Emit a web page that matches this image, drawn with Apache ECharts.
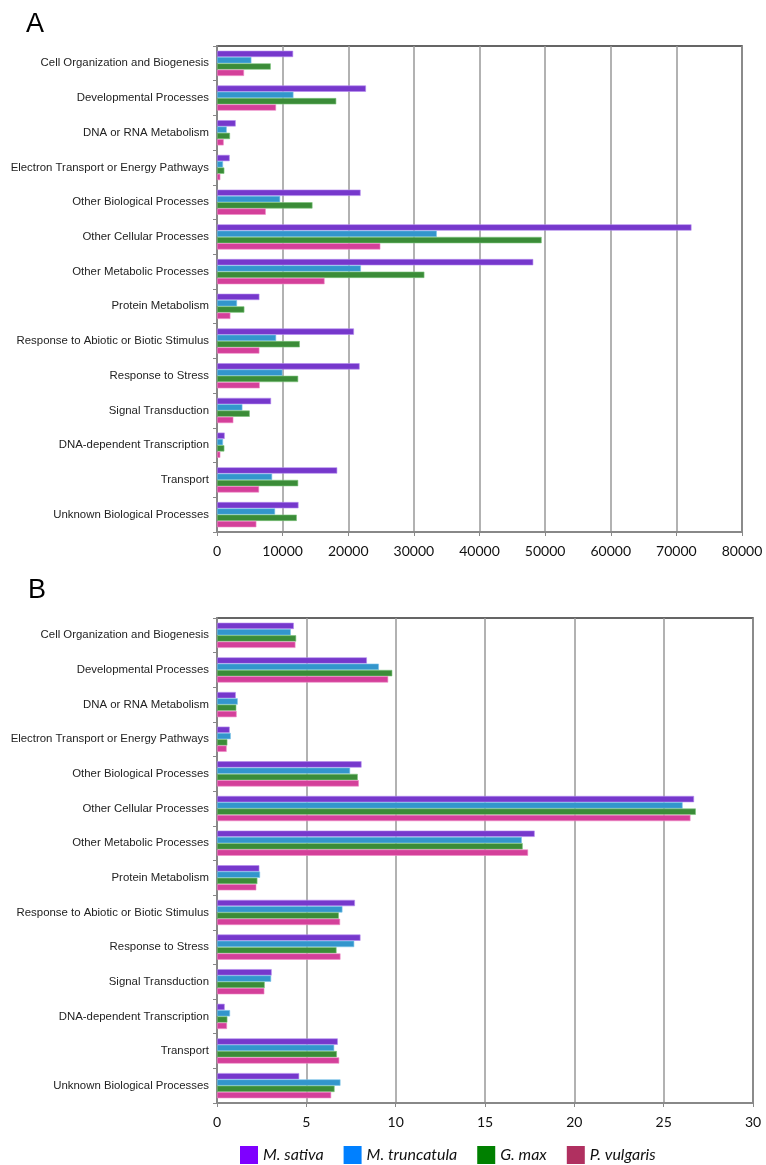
<!DOCTYPE html>
<html><head><meta charset="utf-8">
<script src="https://cdn.jsdelivr.net/npm/echarts@6/dist/echarts.min.js"></script>
<style>html,body{margin:0;padding:0;background:#fff}#c{width:766px;height:1165px}</style>
</head><body><div id="c"></div>
<script>
const categories = ["Cell Organization and Biogenesis","Developmental Processes","DNA or RNA Metabolism","Electron Transport or Energy Pathways","Other Biological Processes","Other Cellular Processes","Other Metabolic Processes","Protein Metabolism","Response to Abiotic or Biotic Stimulus","Response to Stress","Signal Transduction","DNA-dependent Transcription","Transport","Unknown Biological Processes"];
const speciesNames = ["M. sativa","M. truncatula","G. max","P. vulgaris"];
// Panel A: counts
const aSativa     = [11600,22700,2850,1930,21880,72300,48190,6460,20870,21730,8240,1170,18320,12420];
const aTruncatula = [5240,11650,1480,920,9620,33490,21930,3050,9010,9970,3870,920,8400,8850];
const aMax        = [8190,18170,1980,1120,14550,49470,31600,4170,12620,12370,4990,1120,12370,12160];
const aVulgaris   = [4120,9000,1020,510,7430,24890,16390,2040,6460,6510,2490,510,6410,6000];
// Panel B: percentages
const bSativa     = [4.30,8.39,1.05,0.71,8.09,26.7,17.78,2.37,7.72,8.03,3.06,0.43,6.76,4.60];
const bTruncatula = [4.13,9.06,1.16,0.77,7.45,26.06,17.06,2.41,7.02,7.68,3.03,0.73,6.56,6.91];
const bMax        = [4.43,9.81,1.08,0.58,7.88,26.8,17.11,2.26,6.82,6.69,2.67,0.58,6.71,6.58];
const bVulgaris   = [4.39,9.58,1.10,0.54,7.94,26.5,17.41,2.20,6.89,6.91,2.65,0.56,6.84,6.39];
const aTicks = {min:0,max:80000,interval:10000};
const bTicks = {min:0,max:30,interval:5};

const barColors = ["#7638cc","#3396cc","#3b8c38","#d4409a"];
const barBorders = ["#b58cf0","#7cc4ea","#7cc47a","#f08cc8"];
const legendColors = ["#7f00ff","#0080ff","#008000","#b03060"];

const aData=[aSativa,aTruncatula,aMax,aVulgaris];
const bData=[bSativa,bTruncatula,bMax,bVulgaris];

function xAx(gi,t){return {gridIndex:gi,type:'value',min:t.min,max:t.max,interval:t.interval,
  axisLine:{show:true,lineStyle:{color:'#888',width:2}},axisTick:{show:true,length:4,lineStyle:{color:'#888'}},
  splitLine:{show:true,lineStyle:{color:'#999',width:1.5}},
  axisLabel:{fontFamily:'Lato',fontSize:14,color:'#111',margin:12,formatter:v=>String(v)}};}
function yAx(gi){return {gridIndex:gi,type:'category',data:categories,inverse:true,
  axisLine:{show:true,lineStyle:{color:'#888',width:2}},axisTick:{show:true,length:4,lineStyle:{color:'#888'}},
  axisLabel:{fontFamily:'Liberation Sans',fontSize:11.4,color:'#222',margin:8}};}

const series=[];
speciesNames.forEach((n,i)=>{
  series.push({name:n,type:'bar',xAxisIndex:0,yAxisIndex:0,data:aData[i],barWidth:6.3,barGap:'0%',
    itemStyle:{color:barColors[i],borderColor:barBorders[i],borderWidth:0.6}});
});
speciesNames.forEach((n,i)=>{
  series.push({name:n,type:'bar',xAxisIndex:1,yAxisIndex:1,data:bData[i],barWidth:6.3,barGap:'0%',
    itemStyle:{color:barColors[i],borderColor:barBorders[i],borderWidth:0.6}});
});

const chart=echarts.init(document.getElementById('c'),null,{renderer:'canvas'});
chart.setOption({
  animation:false,
  title:[{text:'A',left:21,top:6,textStyle:{fontFamily:'Liberation Sans',fontSize:27,fontWeight:'normal',color:'#000'}},
         {text:'B',left:23,top:572,textStyle:{fontFamily:'Liberation Sans',fontSize:27,fontWeight:'normal',color:'#000'}}],
  legend:{bottom:-4,left:235,icon:'rect',itemWidth:18,itemHeight:18,itemGap:20,
    textStyle:{fontFamily:'Lato',fontStyle:'italic',fontSize:16,color:'#111'},
    data:speciesNames.map((n,i)=>({name:n,itemStyle:{color:legendColors[i],borderWidth:0}}))},
  grid:[{left:217,right:24,top:46,height:486,show:true,borderColor:'#333',borderWidth:1.5},
        {left:217,right:13,top:618,height:485,show:true,borderColor:'#333',borderWidth:1.5}],
  xAxis:[xAx(0,aTicks),xAx(1,bTicks)],
  yAxis:[yAx(0),yAx(1)],
  series:series
});
</script></body></html>
